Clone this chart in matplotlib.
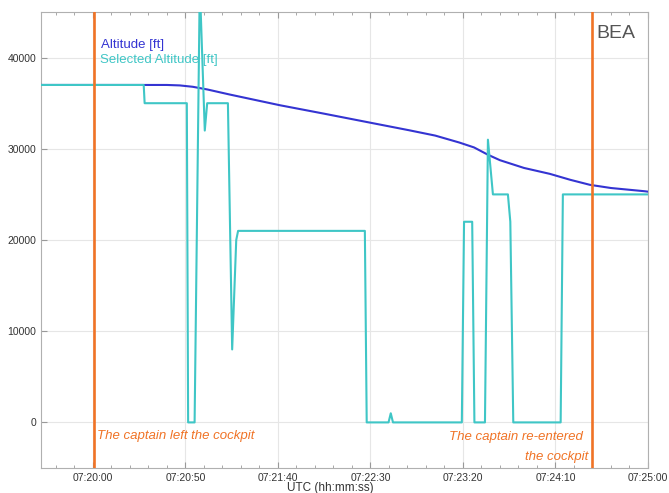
import numpy as np
import matplotlib
matplotlib.use("Agg")
import matplotlib.pyplot as plt
from matplotlib.ticker import FuncFormatter, MultipleLocator

plt.rcParams['font.family'] = ['Liberation Sans', 'DejaVu Sans']

# recorded parameters (UTC time strings, feet)
alt_time = ["07:19:32", "07:20:40", "07:20:47", "07:20:54", "07:21:02", "07:21:14",
            "07:21:41", "07:22:05", "07:22:30", "07:22:51", "07:23:05", "07:23:18",
            "07:23:26", "07:23:33.5", "07:23:40", "07:23:53", "07:24:07", "07:24:18",
            "07:24:28.6", "07:24:40", "07:24:58", "07:25:00"]
alt_ft = [37000, 37000, 36950, 36800, 36500, 35950,
          34780, 33850, 32860, 32030, 31450, 30690,
          30150, 29350, 28750, 27900, 27250, 26600,
          26050, 25700, 25350, 25300]

sel_time = ["07:19:32", "07:20:27.5", "07:20:28", "07:20:50.8", "07:20:51.5", "07:20:55",
            "07:20:57.8", "07:21:00.5", "07:21:01.8", "07:21:13", "07:21:15.3", "07:21:17.5",
            "07:21:18.5", "07:22:27", "07:22:28", "07:22:39.8", "07:22:41", "07:22:42.2",
            "07:23:19.4", "07:23:20.6", "07:23:25", "07:23:26.2", "07:23:31.9", "07:23:33.5",
            "07:23:36.2", "07:23:44.3", "07:23:45.6", "07:23:47.2", "07:24:12.8", "07:24:14",
            "07:25:00"]
sel_ft = [37000, 37000, 35000, 35000, 0, 0,
          48000, 32000, 35000, 35000, 8000, 20000,
          21000, 21000, 0, 0, 1000, 0,
          0, 22000, 22000, 0, 0, 31000,
          25000, 25000, 22000, 0, 0, 25000,
          25000]

events = ["07:20:00.5", "07:24:30"]
x_ticks = ["07:20:00", "07:20:50", "07:21:40", "07:22:30", "07:23:20", "07:24:10", "07:25:00"]


def to_sec(s):
    h, m, sec = s.split(":")
    return int(h) * 3600 + int(m) * 60 + float(sec)


def fmt(v, pos):
    v = int(round(v))
    return "%02d:%02d:%02d" % (v // 3600, (v // 60) % 60, v % 60)


blue = "#3434d2"
cyan = "#3fc6c6"
orange = "#f07326"

fig = plt.figure(figsize=(6.69, 4.93), dpi=100)
ax = fig.add_axes([41 / 669, 1 - 468 / 493, 607 / 669, 456 / 493])

ax.plot([to_sec(t) for t in alt_time], alt_ft, color=blue, lw=1.5, zorder=3,
        solid_joinstyle='round')
ax.plot([to_sec(t) for t in sel_time], sel_ft, color=cyan, lw=1.5, zorder=4)
for e in events:
    ax.axvline(to_sec(e), color=orange, lw=1.9, zorder=5)

ax.set_xlim(to_sec("07:19:32"), to_sec("07:25:00"))
ax.set_ylim(-5000, 45000)
ax.set_xticks([to_sec(t) for t in x_ticks])
ax.xaxis.set_major_formatter(FuncFormatter(fmt))
ax.xaxis.set_minor_locator(MultipleLocator(10))
ax.set_yticks([0, 10000, 20000, 30000, 40000])

ax.grid(True, which='major', color='#e6e6e6', lw=0.8, zorder=0)
ax.tick_params(which='both', direction='in', top=True, colors='#999999',
               labelcolor='#333333', labelsize=7.5)
ax.tick_params(which='major', length=4)
ax.tick_params(which='minor', length=2.5)
for sp in ax.spines.values():
    sp.set_color('#b0b0b0')

ax.text(0.099, 0.927, "Altitude [ft]", transform=ax.transAxes, color=blue, fontsize=9.5,
        va='center')
ax.text(0.097, 0.894, "Selected Altitude [ft]", transform=ax.transAxes, color=cyan,
        fontsize=9.5, va='center')
ax.text(0.915, 0.953, "BEA", transform=ax.transAxes, color='#555555', fontsize=14,
        va='center')

ax.text(to_sec("07:20:02"), -1450, "The captain left the cockpit", color=orange,
        fontsize=9.5, style='italic', va='center')
ax.text(to_sec("07:24:25"), -1550, "The captain re-entered", color=orange,
        fontsize=9.5, style='italic', va='center', ha='right')
ax.text(to_sec("07:24:27.5"), -3750, "the cockpit", color=orange,
        fontsize=9.5, style='italic', va='center', ha='right')

fig.text(330 / 669, 1 - 488 / 493, "UTC (hh:mm:ss)", ha='center', va='center',
         fontsize=8.5, color='#333333')

fig.savefig("out.png", dpi=100)
